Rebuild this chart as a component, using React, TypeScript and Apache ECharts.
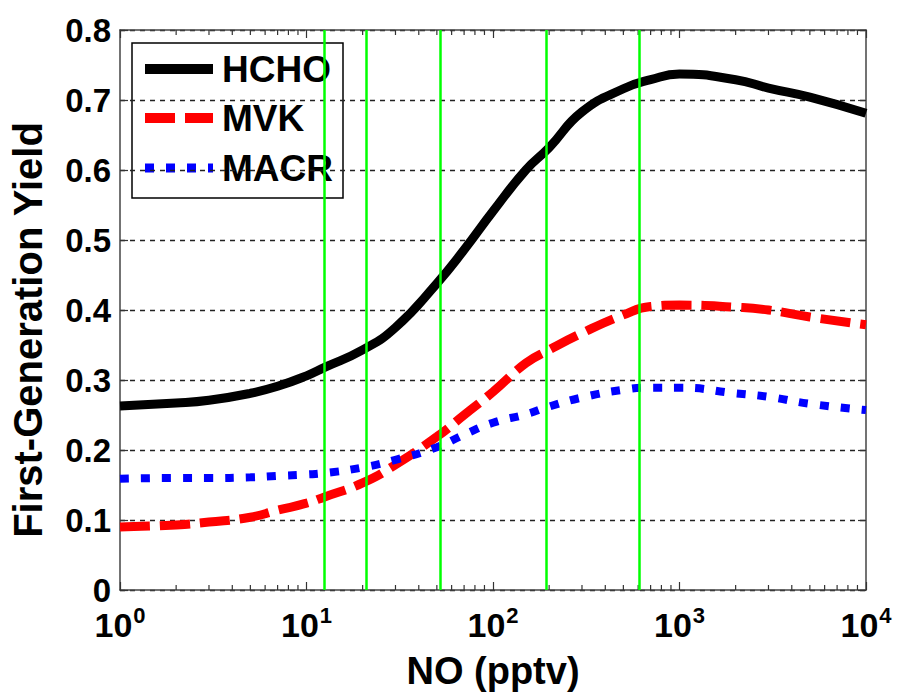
import React, { useEffect, useRef } from "react";
import * as echarts from "echarts";

const noPptv = [1, 2, 3, 5, 7, 10, 12.5, 20, 30, 50, 70, 100, 150, 200, 300, 500, 700, 1000, 2000, 3000, 5000, 10000];
const hcho = [0.263, 0.267, 0.271, 0.281, 0.291, 0.306, 0.318, 0.343, 0.375, 0.438, 0.486, 0.541, 0.600, 0.632, 0.683, 0.716, 0.729, 0.737, 0.729, 0.717, 0.704, 0.681];
const mvk = [0.090, 0.093, 0.097, 0.104, 0.114, 0.124, 0.133, 0.153, 0.179, 0.219, 0.250, 0.283, 0.324, 0.343, 0.367, 0.393, 0.405, 0.407, 0.404, 0.400, 0.390, 0.379];
const macr = [0.159, 0.160, 0.160, 0.161, 0.163, 0.165, 0.167, 0.175, 0.186, 0.204, 0.222, 0.239, 0.251, 0.262, 0.275, 0.286, 0.289, 0.289, 0.281, 0.276, 0.266, 0.257];
const greenLines = [12.5, 20.8, 52, 192, 612];
const minorTicks = [2, 3, 4, 5, 6, 7, 8, 9, 20, 30, 40, 50, 60, 70, 80, 90, 200, 300, 400, 500, 600, 700, 800, 900, 2000, 3000, 4000, 5000, 6000, 7000, 8000, 9000];
const seriesNames = ["HCHO", "MVK", "MACR"];
const seriesColors = ["#000000", "#ff0000", "#0000ff"];
const seriesDash: (number[] | "solid")[] = ["solid", [30, 10], [9, 12]];
const seriesWidths = [9, 9, 8];

const FONT = "Liberation Sans, Arial, sans-serif";

export default function App() {
  const ref = useRef<HTMLDivElement>(null);
  useEffect(() => {
    if (!ref.current) return;
    const chart = echarts.init(ref.current, null, { renderer: "svg" });
    const pairs = (ys: number[]) => noPptv.map((x, i) => [x, ys[i]]);
    const values = [hcho, mvk, macr];
    const xAxisBase = {
      type: "log" as const,
      logBase: 10,
      min: 1,
      max: 10000,
      axisLine: { show: true, onZero: false, lineStyle: { color: "#444", width: 1.5 } },
      axisTick: { show: true, inside: true, length: 8, lineStyle: { color: "#333", width: 1.2 } },
      splitLine: { show: false },
      minorTick: { show: false },
    };
    const yAxisBase = {
      type: "value" as const,
      min: 0,
      max: 0.8,
      interval: 0.1,
      axisLine: { show: true, lineStyle: { color: "#444", width: 1.5 } },
      axisTick: { show: true, inside: true, length: 8, lineStyle: { color: "#333", width: 1.2 } },
    };

    // legend box drawn with graphic elements
    const rowY = [69, 118, 168];
    const legendChildren: any[] = [
      {
        type: "rect",
        shape: { x: 132, y: 43, width: 211, height: 155 },
        style: { fill: "#fff", stroke: "#000", lineWidth: 1.5 },
      },
    ];
    seriesNames.forEach((name, i) => {
      legendChildren.push({
        type: "line",
        shape: { x1: 145, y1: rowY[i], x2: 213, y2: rowY[i] },
        style: {
          stroke: seriesColors[i],
          lineWidth: seriesWidths[i] + 1,
          lineDash: seriesDash[i] === "solid" ? null : seriesDash[i],
          lineCap: "butt",
        },
      });
      legendChildren.push({
        type: "text",
        x: 222,
        y: rowY[i],
        style: {
          text: name,
          fontSize: 37,
          fontWeight: "bold",
          fontFamily: FONT,
          fill: "#000",
          textVerticalAlign: "middle",
          verticalAlign: "middle",
        },
      });
    });

    chart.setOption({
      animation: false,
      backgroundColor: "#fff",
      grid: { left: 120, right: 31, top: 30, bottom: 102, containLabel: false, outerBoundsMode: "none" },
      xAxis: [
        {
          ...xAxisBase,
          position: "bottom",
          name: "NO (pptv)",
          nameLocation: "middle",
          nameGap: 62,
          nameTextStyle: { fontSize: 38, fontWeight: "bold", color: "#000", fontFamily: FONT },
          axisLabel: {
            show: true,
            margin: 14,
            formatter: (v: number) => `{a|10}{b|${Math.round(Math.log10(v))}}`,
            rich: {
              a: { fontSize: 34, fontWeight: "bold", color: "#000", fontFamily: FONT, verticalAlign: "bottom" },
              b: { fontSize: 22, fontWeight: "bold", color: "#000", fontFamily: FONT, verticalAlign: "bottom", padding: [0, 0, 16, 1] },
            },
          },
        },
        { ...xAxisBase, position: "top", axisLabel: { show: false } },
      ],
      yAxis: [
        {
          ...yAxisBase,
          position: "left",
          name: "First-Generation Yield",
          nameLocation: "middle",
          nameGap: 72,
          nameTextStyle: { fontSize: 40, fontWeight: "bold", color: "#000", fontFamily: FONT, padding: [0, 40, 0, 0] },
          axisLabel: {
            margin: 9,
            fontSize: 33,
            fontWeight: "bold",
            color: "#000",
            fontFamily: FONT,
            formatter: (v: number) => (v === 0 ? "0" : v.toFixed(1)),
          },
          splitLine: { show: true, lineStyle: { color: "#222", width: 1.3, type: [5, 5] } },
        },
        { ...yAxisBase, position: "right", axisLabel: { show: false }, splitLine: { show: false } },
      ],
      graphic: [{ type: "group", z: 100, children: legendChildren }],
      series: [
        ...seriesNames.map((name, i) => ({
          name,
          type: "line",
          data: pairs(values[i]),
          smooth: 0.5,
          showSymbol: false,
          symbol: "none",
          lineStyle: { color: seriesColors[i], width: seriesWidths[i], type: seriesDash[i], cap: "butt" },
          itemStyle: { color: seriesColors[i] },
          z: 3,
        })),
        {
          name: "markers",
          type: "line",
          data: [],
          markLine: {
            silent: true,
            symbol: "none",
            label: { show: false },
            lineStyle: { color: "#00ff00", width: 2.5, type: "solid" },
            data: greenLines.map((v) => ({ xAxis: v })),
          },
          z: 5,
        },
        {
          name: "minorTicks",
          type: "custom",
          data: minorTicks.map((v) => [v, 0]),
          silent: true,
          renderItem: (params: any, api: any) => {
            const v = api.value(0);
            const b = api.coord([v, 0]);
            const t = api.coord([v, 0.8]);
            const st = { stroke: "#333", lineWidth: 1.2 };
            return {
              type: "group",
              children: [
                { type: "line", shape: { x1: b[0], y1: b[1], x2: b[0], y2: b[1] - 5 }, style: st },
                { type: "line", shape: { x1: t[0], y1: t[1], x2: t[0], y2: t[1] + 5 }, style: st },
              ],
            };
          },
          z: 2,
        },
      ],
    });
    return () => chart.dispose();
  }, []);
  return <div ref={ref} style={{ position: "absolute", left: 0, top: 0, width: 897, height: 692 }} />;
}
